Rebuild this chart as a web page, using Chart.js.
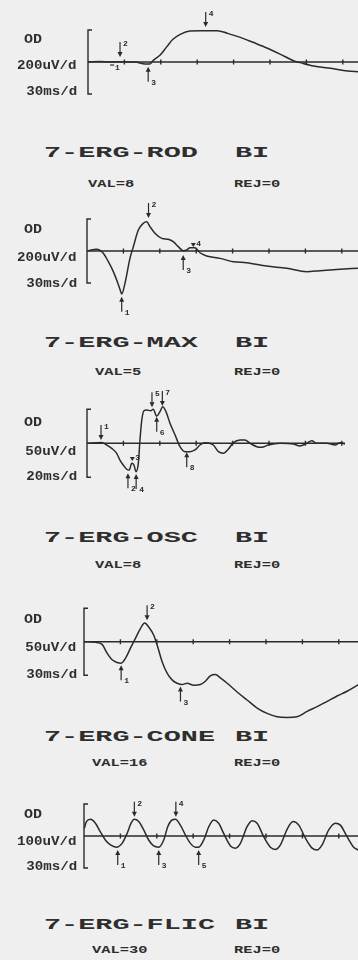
<!DOCTYPE html>
<html><head><meta charset="utf-8">
<script src="https://cdn.jsdelivr.net/npm/chart.js@4/dist/chart.umd.min.js"></script>
<style>
html,body{margin:0;padding:0;}
body{background:#efefef;width:358px;height:960px;overflow:hidden;position:relative;}
.t{position:absolute;font-family:'Liberation Mono',monospace;color:#2e2e2e;white-space:pre;line-height:1;}
.title{font-size:15px;font-weight:bold;transform:scaleX(1.9);transform-origin:0 50%;}
.small{font-size:11px;font-weight:bold;transform:scaleX(1.4);transform-origin:0 50%;}
.unit{font-size:12px;font-weight:bold;transform:scaleX(1.18);transform-origin:100% 50%;}
.od{font-size:12px;font-weight:bold;transform:scaleX(1.25);transform-origin:0 50%;}
canvas{position:absolute;left:0;}
</style></head>
<body>
<script>
// ---------- DATA ----------
const titles   = ['7-ERG-ROD', '7-ERG-MAX', '7-ERG-OSC', '7-ERG-CONE', '7-ERG-FLIC'];
const eyeLabel = 'BI';
const valLabels = ['VAL=8', 'VAL=5', 'VAL=8', 'VAL=16', 'VAL=30'];
const rejLabels = ['REJ=0', 'REJ=0', 'REJ=0', 'REJ=0', 'REJ=0'];
const odLabel = 'OD';
const ampUnits  = ['200uV/d', '200uV/d', '50uV/d', '50uV/d', '100uV/d'];
const timeUnits = ['30ms/d', '30ms/d', '20ms/d', '30ms/d', '30ms/d'];
const uvPerDiv = [200, 200, 50, 50, 100];
const msPerDiv = [30, 30, 20, 30, 30];

const rodTime = [0, 10, 18, 26, 39, 47, 51, 54, 59.5, 65, 70, 76, 84, 92.6, 106.6, 115, 125.6, 136, 148, 158.7, 169.4, 175, 186, 200, 214, 223];
const rodAmp  = [0, 3, 0, 2, 0, -12, -12, 12, 44, 96, 142, 173, 194, 196, 196, 179, 154, 123, 86, 48, 8, -4, -25, -39, -56, -61];

const maxTime = [0, 8, 13.4, 17.6, 21.7, 25, 27.8, 28.6, 31.3, 35.4, 38.2, 42.3, 46.4, 49.2, 51.9, 56, 61.6, 67, 71.1, 75.2, 79.4, 82.2, 84.9, 89, 93.1, 98.6, 109.6, 120.6, 131.6, 148, 164.6, 181, 192, 208.5, 223.3];
const maxAmp  = [0, 11, -14, -67, -129, -192, -254, -269, -202, -46, 27, 131, 173, 183, 152, 111, 79, 73, 58, 27, 2, 6, 21, 21, -11, -31, -46, -67, -73, -94, -108, -129, -123, -114, -108];

const oscTime = [0, 8.1, 10.8, 13.6, 16.3, 18.1, 19.9, 21.8, 23.2, 24.6, 25.8, 26.9, 28.2, 29.1, 30.1, 31.3, 32.8, 35, 36.4, 38.3, 40.1, 41.6, 43.4, 45.6, 48.4, 51.1, 53.8, 56.6, 59.3, 62.1, 64.8, 69.4, 72.2, 74.9, 77.6, 80.4, 84.1, 86.8, 89.6, 93.3, 96, 99.6, 106, 113.4, 117, 120.7, 123.5, 126.2, 131.7, 136.3, 139, 141.8];
const oscAmp  = [0, 1, -2.5, -7.4, -14.7, -24.6, -31.9, -38.2, -39.3, -29.4, -31.9, -41.7, -29.4, 4.9, 34.3, 47.9, 49, 47.9, 50, 40.1, 46.5, 53.8, 46.5, 29.4, 12.2, -5, -12.3, -12.3, -9.8, -2.5, 0.9, -2.5, -12.3, -14.7, -8.8, 0.9, 4.9, 4.9, 0, -5, -5.9, -2.5, 0, -1, -4, 0, 3.8, 0, 0, -2.5, 0.9, -1];

const coneTime = [0, 9.4, 14.9, 19, 23.2, 27.3, 30.6, 34.1, 38.2, 42.4, 46.6, 50, 53.3, 57.4, 60.7, 64.4, 68.5, 72.6, 76.7, 80.9, 85, 90.4, 95.9, 100, 104.1, 108.3, 112.4, 118, 126.2, 134.4, 142.7, 150.9, 159.2, 167.4, 175.6, 183.9, 192.1, 200.4, 208.6, 216.8, 226.2];
const coneAmp  = [0, -1, -4, -17, -27, -31, -32, -25, -10, 5, 20, 28, 22, 10, -7.5, -30, -47, -57, -62, -64, -62, -65, -64, -59, -51, -49, -54, -62, -75, -87, -99, -107, -112, -113, -112, -104, -97, -89, -81, -74, -64];

const flicTime = [0.3, 2, 5.3, 9.4, 13.5, 17.6, 21.8, 26.7, 31.4, 35.5, 38.8, 41.5, 45.1, 49.2, 53.3, 57.4, 61.6, 65.7, 69, 72.6, 75.3, 79.4, 83.6, 87.7, 91.8, 94.5, 98.7, 102.8, 106.9, 111, 115.1, 120.7, 124.8, 128.9, 134.4, 138.5, 142.7, 148.1, 153.6, 157.8, 161.9, 167.4, 172.3, 177, 182.5, 188, 192.1, 196.2, 201.7, 207.2, 211.3, 216.8, 222.3, 226.2];
const flicAmp  = [24, 45, 52, 40, 13, -12.5, -28, -35, -23, 8, 40, 52, 45, 19, -12.5, -31, -35, -12.5, 29, 50, 52, 34, 3, -23, -35, -35, -12.5, 29, 50, 40, 8, -31, -38, -23, 29, 48, 40, -2, -35, -42, -28, 21, 45, 34, -7, -38, -44, -28, 19, 40, 34, -2, -35, -44];

const rodMarkers  = [{t:20.7,v:-19,kind:'dash',n:'1'},{t:26.4,v:31,kind:'down',n:'2'},{t:49.6,v:-29,kind:'up',n:'3'},{t:97,v:219,kind:'down',n:'4'}];
const maxMarkers  = [{t:28.6,v:-286,kind:'up',n:'1'},{t:50.7,v:206,kind:'down',n:'2'},{t:79.3,v:-25,kind:'up',n:'3'},{t:87.6,v:25,kind:'tri',n:'4'}];
const oscMarkers  = [{t:7.7,v:5,kind:'down',n:'1'},{t:22.5,v:-44,kind:'up',n:'2'},{t:24.9,v:-26,kind:'tri',n:'3'},{t:27,v:-45,kind:'up',n:'4'},{t:35.7,v:53,kind:'down',n:'5'},{t:38.3,v:39,kind:'up',n:'6'},{t:41.4,v:55,kind:'down',n:'7'},{t:54.8,v:-13,kind:'up',n:'8'}];
const coneMarkers = [{t:30.6,v:-35,kind:'up',n:'1'},{t:52,v:32,kind:'down',n:'2'},{t:79.5,v:-67,kind:'up',n:'3'}];
const flicMarkers = [{t:27.8,v:-44,kind:'up',n:'1'},{t:41.5,v:60,kind:'down',n:'2'},{t:61.6,v:-44,kind:'up',n:'3'},{t:75.7,v:60,kind:'down',n:'4'},{t:94.5,v:-44,kind:'up',n:'5'}];

const times   = [rodTime, maxTime, oscTime, coneTime, flicTime];
const amps    = [rodAmp, maxAmp, oscAmp, coneAmp, flicAmp];
const markers = [rodMarkers, maxMarkers, oscMarkers, coneMarkers, flicMarkers];

// ---------- LAYOUT ----------
const W = 358;
const panels = [
  {top:0,   height:120, base:62,    divPx:32,   x0:88,   xEnd:358, tickPx:36.4, titleY:153, valY:184, valX:88, labY:[40,66,92]},
  {top:195, height:130, base:251,   divPx:32,   x0:87,   xEnd:358, tickPx:36.4, titleY:343, valY:372, valX:95, labY:[230,258,284]},
  {top:385, height:120, base:443.3, divPx:34,   x0:87,   xEnd:345, tickPx:36.4, titleY:538, valY:565, valX:95, labY:[423,451.7,476.7]},
  {top:595, height:130, base:641.7, divPx:33.5, x0:84,   xEnd:358, tickPx:36.4, titleY:737, valY:763, valX:92, labY:[620,648,675]},
  {top:795, height:85,  base:836,   divPx:32,   x0:84,   xEnd:358, tickPx:36.4, titleY:925, valY:950, valX:92, labY:[815,841.7,866.7]}
];
const INK = '#2b2b2b';

function addText(txt, cls, x, yc, fs, alignRight) {
  const d = document.createElement('div');
  d.className = 't ' + cls;
  d.textContent = txt;
  d.style.top = (yc - fs / 2) + 'px';
  if (alignRight) d.style.right = (W - x) + 'px'; else d.style.left = x + 'px';
  document.body.appendChild(d);
}

function ergPlugin(i) {
  const msd = msPerDiv[i], uvd = uvPerDiv[i];
  return {
    id: 'erg' + i,
    beforeDatasetsDraw(chart) {
      const {ctx, chartArea: a} = chart;
      const xs = chart.scales.x, ys = chart.scales.y;
      ctx.save();
      ctx.strokeStyle = INK; ctx.lineWidth = 1.4;
      const b = ys.getPixelForValue(0);
      ctx.beginPath();
      ctx.moveTo(a.left, b); ctx.lineTo(a.right, b);
      for (let t = msd; t <= xs.max + 0.01; t += msd) {
        const px = xs.getPixelForValue(t);
        ctx.moveTo(px, b - 2.5); ctx.lineTo(px, b + 2.5);
      }
      ctx.stroke();
      const yt = ys.getPixelForValue(uvd), yb = ys.getPixelForValue(-uvd);
      ctx.beginPath();
      ctx.moveTo(a.left + 4, yt); ctx.lineTo(a.left, yt); ctx.lineTo(a.left, yb); ctx.lineTo(a.left + 4, yb);
      ctx.stroke();
      ctx.restore();
    },
    afterDatasetsDraw(chart) {
      const ctx = chart.ctx, xs = chart.scales.x, ys = chart.scales.y;
      ctx.save();
      ctx.strokeStyle = INK; ctx.fillStyle = INK; ctx.lineWidth = 1.2;
      ctx.font = 'bold 8px "Liberation Mono", monospace';
      ctx.textBaseline = 'middle';
      const L = 15;
      markers[i].forEach(m => {
        const x = xs.getPixelForValue(m.t), y = ys.getPixelForValue(m.v);
        if (m.kind === 'down' || m.kind === 'up') {
          const s = m.kind === 'down' ? -1 : 1;
          ctx.beginPath(); ctx.moveTo(x, y + s * L); ctx.lineTo(x, y + s * 3); ctx.stroke();
          ctx.beginPath(); ctx.moveTo(x, y); ctx.lineTo(x - 2.5, y + s * 5); ctx.lineTo(x + 2.5, y + s * 5); ctx.closePath(); ctx.fill();
          ctx.fillText(m.n, x + 3, y + s * L + (s < 0 ? 2 : 1));
        } else if (m.kind === 'tri') {
          ctx.beginPath(); ctx.moveTo(x, y); ctx.lineTo(x - 2.5, y - 4); ctx.lineTo(x + 2.5, y - 4); ctx.closePath(); ctx.fill();
          ctx.fillText(m.n, x + 3, y - 3);
        } else {
          ctx.beginPath(); ctx.moveTo(x - 3, y); ctx.lineTo(x + 1, y); ctx.stroke();
          ctx.fillText(m.n, x + 2, y + 3);
        }
      });
      ctx.restore();
    }
  };
}

panels.forEach((p, i) => {
  const c = document.createElement('canvas');
  c.width = W; c.height = p.height;
  c.style.top = p.top + 'px'; c.style.width = W + 'px'; c.style.height = p.height + 'px';
  document.body.appendChild(c);
  const uvd = uvPerDiv[i], msd = msPerDiv[i];
  const yMax = (p.base - p.top) / p.divPx * uvd;
  const yMin = -(p.top + p.height - p.base) / p.divPx * uvd;
  const xMax = (p.xEnd - p.x0) / p.tickPx * msd;
  new Chart(c, {
    type: 'line',
    data: { datasets: [{
      data: times[i].map((t, k) => ({x: t, y: amps[i][k]})),
      borderColor: INK, borderWidth: 1.5, pointRadius: 0,
      cubicInterpolationMode: 'monotone', fill: false
    }]},
    options: {
      responsive: false, animation: false, devicePixelRatio: 1, events: [],
      layout: { padding: { left: p.x0, right: W - p.xEnd, top: 0, bottom: 0 } },
      scales: {
        x: { type: 'linear', min: 0, max: xMax, display: false },
        y: { type: 'linear', min: yMin, max: yMax, display: false }
      },
      plugins: { legend: { display: false }, tooltip: { enabled: false } }
    },
    plugins: [ergPlugin(i)]
  });

  addText(odLabel, 'od', 24, p.labY[0], 12, false);
  addText(ampUnits[i], 'unit', 76, p.labY[1], 12, true);
  addText(timeUnits[i], 'unit', 77, p.labY[2], 12, true);
  addText(titles[i], 'title', 44, p.titleY, 15, false);
  addText(eyeLabel, 'title', 235, p.titleY, 15, false);
  addText(valLabels[i], 'small', p.valX, p.valY, 11, false);
  addText(rejLabels[i], 'small', 234, p.valY, 11, false);
});
</script>
</body></html>
